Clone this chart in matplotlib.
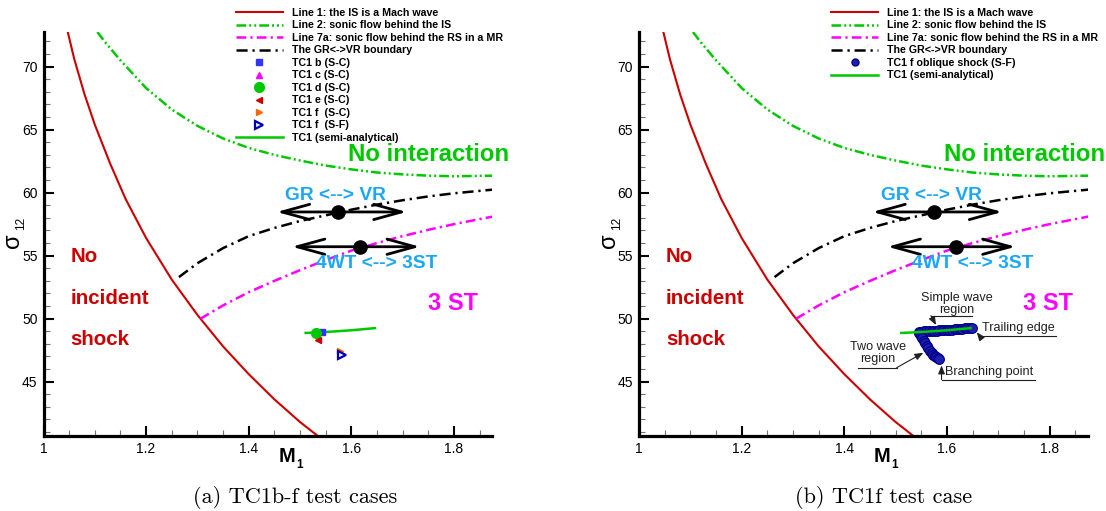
import matplotlib.pyplot as plt
from matplotlib.lines import Line2D
from matplotlib.ticker import MultipleLocator, FixedLocator

plt.rcParams['font.family'] = ['Liberation Sans', 'DejaVu Sans']
plt.rcParams['lines.scale_dashes'] = False

W, H = 1106, 511

# Line 1: the incident shock is a Mach wave
mach_m = [1.047, 1.06, 1.08, 1.10, 1.13, 1.16, 1.20, 1.25, 1.30, 1.35, 1.40, 1.45, 1.50, 1.55]
mach_s = [72.8, 70.6, 67.8, 65.4, 62.3, 59.5, 56.4, 53.1, 50.3, 47.8, 45.6, 43.6, 41.8, 40.2]

# Line 2: sonic flow behind the incident shock
sonic_m = [1.105, 1.12, 1.15, 1.20, 1.25, 1.30, 1.35, 1.40, 1.45, 1.50, 1.55, 1.60, 1.65, 1.70, 1.75, 1.80, 1.878]
sonic_s = [72.75, 71.95, 70.5, 68.3, 66.6, 65.3, 64.3, 63.55, 63.0, 62.55, 62.15, 61.85, 61.6, 61.45, 61.35, 61.3, 61.35]

# Line 7a: sonic flow behind the reflected shock in a Mach reflection
mr_m = [1.306, 1.35, 1.40, 1.45, 1.50, 1.55, 1.60, 1.65, 1.70, 1.75, 1.80, 1.85, 1.878]
mr_s = [50.0, 51.05, 52.1, 53.0, 53.85, 54.65, 55.4, 56.0, 56.55, 57.05, 57.5, 57.9, 58.12]

# GR <-> VR boundary
grvr_m = [1.264, 1.30, 1.35, 1.40, 1.45, 1.50, 1.55, 1.60, 1.65, 1.70, 1.75, 1.80, 1.878]
grvr_s = [53.3, 54.4, 55.6, 56.55, 57.2, 57.75, 58.2, 58.65, 59.05, 59.4, 59.7, 59.95, 60.25]

# TC1 semi-analytical curve
tc1_m = [1.511, 1.53, 1.56, 1.60, 1.646]
tc1_s = [48.87, 48.9, 48.97, 49.08, 49.25]

# TC1 b-f single points (shock-capturing / shock-fitting)
tc1b = (1.542, 48.97)
tc1c = (1.533, 48.95)
tc1d = (1.532, 48.85)
tc1e = (1.536, 48.3)
tc1f_sc = (1.578, 47.46)
tc1f_sf = (1.581, 47.12)

# TC1 f oblique shock (S-F) history
sf_upper_m = [1.545, 1.550, 1.555, 1.560, 1.565, 1.570, 1.575, 1.580, 1.585, 1.590, 1.595,
              1.600, 1.605, 1.610, 1.615, 1.620, 1.625, 1.630, 1.635, 1.640, 1.645, 1.648]
sf_upper_s = [48.97, 48.98, 48.99, 49.0, 49.02, 49.03, 49.04, 49.05, 49.07, 49.08, 49.09,
              49.1, 49.12, 49.13, 49.15, 49.17, 49.19, 49.21, 49.23, 49.25, 49.26, 49.27]
sf_lower_m = [1.546, 1.549, 1.552, 1.555, 1.558, 1.561, 1.564, 1.567, 1.570, 1.573,
              1.576, 1.579, 1.582, 1.584]
sf_lower_s = [48.85, 48.65, 48.45, 48.25, 48.05, 47.85, 47.65, 47.47, 47.3, 47.15,
              47.02, 46.92, 46.85, 46.8]

# transition points marked on the boundaries
grvr_pt = (1.574, 58.47)
wt_pt = (1.617, 55.71)

RED = '#cc0000'
GREEN = '#00c800'
MAGENTA = '#ff00ff'
CYAN = '#1aa8f5'
INK = '#202020'

fig = plt.figure(figsize=(W / 100, H / 100), dpi=100)


def px_box(x0, x1, y0, y1):
    return [x0 / W, 1 - y1 / H, (x1 - x0) / W, (y1 - y0) / H]


def base_panel(ax):
    l1, = ax.plot(mach_m, mach_s, color=RED, lw=1.5)
    l2, = ax.plot(sonic_m, sonic_s, color=GREEN, lw=1.8,
                  ls=(0, (7, 2.2, 1.4, 2.2, 1.4, 2.2)))
    l3, = ax.plot(mr_m, mr_s, color=MAGENTA, lw=1.8, ls=(0, (7, 3, 1.6, 3)))
    l4, = ax.plot(grvr_m, grvr_s, color='k', lw=1.8, ls=(0, (8, 3.5, 1.6, 3.5)))

    for (x0, x1), (mx, my) in [((1.4545, 1.708), grvr_pt), ((1.484, 1.734), wt_pt)]:
        ax.annotate('', xy=(x1, my), xytext=(x0, my),
                    arrowprops=dict(arrowstyle='<->, head_length=2.0, head_width=0.55',
                                    mutation_scale=10, lw=2, color='k',
                                    shrinkA=0, shrinkB=0))
        ax.plot(mx, my, 'o', color='k', ms=9.5, zorder=5)

    ax.text(1.0522, 54.92, 'No', color=RED, fontsize=14.8, weight='bold', va='center')
    ax.text(1.0522, 51.62, 'incident', color=RED, fontsize=14.8, weight='bold', va='center')
    ax.text(1.0522, 48.31, 'shock', color=RED, fontsize=14.8, weight='bold', va='center')
    ax.text(1.7513, 62.99, 'No interaction', color=GREEN, fontsize=17.3,
            weight='bold', ha='center', va='center')
    ax.text(1.5698, 59.75, 'GR <--> VR', color=CYAN, fontsize=13.8,
            weight='bold', ha='center', va='center')
    ax.text(1.6497, 54.4, '4WT <--> 3ST', color=CYAN, fontsize=13.8,
            weight='bold', ha='center', va='center')
    ax.text(1.798, 51.2, '3 ST', color=MAGENTA, fontsize=17,
            weight='bold', ha='center', va='center')

    ax.set_xlim(1, 1.875)
    ax.set_ylim(40.69, 72.75)
    ax.xaxis.set_major_locator(FixedLocator([1, 1.2, 1.4, 1.6, 1.8]))
    ax.set_xticklabels(['1', '1.2', '1.4', '1.6', '1.8'])
    ax.xaxis.set_minor_locator(MultipleLocator(0.05))
    ax.yaxis.set_major_locator(MultipleLocator(5))
    ax.yaxis.set_minor_locator(MultipleLocator(1))
    ax.tick_params(which='major', direction='in', length=7.2, width=1.5,
                   labelsize=10, top=False, right=False)
    ax.tick_params(axis='y', which='major', pad=4.3)
    ax.tick_params(axis='x', which='major', pad=4)
    ax.tick_params(which='minor', direction='in', length=4.3, width=0.8,
                   color='0.45', top=False, right=False)
    for side in ('top', 'right'):
        ax.spines[side].set_visible(False)
    for side in ('left', 'bottom'):
        ax.spines[side].set_linewidth(2.3)
    return [l1, l2, l3, l4]


def note_arrow(ax, start, tip):
    ax.annotate('', xy=tip, xytext=start,
                arrowprops=dict(arrowstyle='-|>, head_length=0.5, head_width=0.2',
                                color=INK, lw=0.8, shrinkA=0, shrinkB=0))


line_labels = ['Line 1: the IS is a Mach wave',
               'Line 2: sonic flow behind the IS',
               'Line 7a: sonic flow behind the RS in a MR',
               'The GR<->VR boundary']
leg_prop = dict(family='Liberation Sans', weight='bold', size=7.65)
leg_kw = dict(loc='upper left', frameon=False, prop=leg_prop, handlelength=4.48,
              handletextpad=0.82, labelspacing=0.235, borderpad=0,
              borderaxespad=0, numpoints=1, bbox_transform=fig.transFigure)

# (a) TC1b-f test cases
ax1 = fig.add_axes(px_box(43.5, 492.4, 32, 436))
lines = base_panel(ax1)
semi1, = ax1.plot(tc1_m, tc1_s, color=GREEN, lw=1.8)
mb, = ax1.plot(*tc1b, 's', color='#3333ff', ms=4.5, ls='none')
mc, = ax1.plot(*tc1c, '^', color=MAGENTA, ms=5, ls='none')
md, = ax1.plot(*tc1d, 'o', color=GREEN, ms=7, ls='none')
me, = ax1.plot(*tc1e, '<', color=RED, ms=5, ls='none')
mf, = ax1.plot(*tc1f_sc, '>', color='#ff6600', ms=5, ls='none')
mg, = ax1.plot(*tc1f_sf, '>', mfc='#e8f6ff', mec='#0000b0', mew=1.6, ms=6, ls='none')
fig.legend(lines + [mb, mc, md, me, mf, mg, semi1],
           line_labels + ['TC1 b (S-C)', 'TC1 c (S-C)', 'TC1 d (S-C)', 'TC1 e (S-C)',
                          'TC1 f  (S-C)', 'TC1 f  (S-F)', 'TC1 (semi-analytical)'],
           bbox_to_anchor=(235.5 / W, 1 - 8 / H), **leg_kw)

# (b) TC1f test case
ax2 = fig.add_axes(px_box(639.1, 1088, 32, 436))
lines = base_panel(ax2)
dot = dict(marker='o', ms=7, mfc='#2020b0', mec='#000088', mew=0.8, ls='none')
ax2.plot(sf_upper_m, sf_upper_s, **dot)
ax2.plot(sf_lower_m, sf_lower_s, **dot)
semi2, = ax2.plot(tc1_m, tc1_s, color=GREEN, lw=1.8)
sf_leg = Line2D([], [], ls='none', marker='o', ms=5, mfc='#2020b0', mec='#000088')
fig.legend(lines + [sf_leg, semi2],
           line_labels + ['TC1 f oblique shock (S-F)', 'TC1 (semi-analytical)'],
           bbox_to_anchor=(830.7 / W, 1 - 8 / H), **leg_kw)

note = dict(fontsize=9.1, color=INK)
ax2.text(1.6197, 51.18, 'Simple wave\nregion', ha='center', va='center',
         linespacing=1.0, **note)
ax2.plot([1.5688, 1.6489], [50.24, 50.24], color=INK, lw=0.8)
note_arrow(ax2, (1.5688, 50.24), (1.5788, 49.5))
ax2.text(1.668, 49.24, 'Trailing edge', ha='left', va='center', **note)
ax2.plot([1.6645, 1.8127], [48.59, 48.59], color=INK, lw=0.8)
note_arrow(ax2, (1.6645, 48.59), (1.6581, 48.92))
ax2.text(1.4656, 47.25, 'Two wave\nregion', ha='center', va='center',
         linespacing=1.0, **note)
ax2.plot([1.4267, 1.5021], [46.11, 46.11], color=INK, lw=0.8)
note_arrow(ax2, (1.5021, 46.11), (1.554, 47.3))
ax2.text(1.5963, 45.73, 'Branching point', ha='left', va='center', **note)
ax2.plot([1.5895, 1.7717], [45.17, 45.17], color=INK, lw=0.8)
note_arrow(ax2, (1.5895, 45.17), (1.5895, 46.29))

# axis titles and captions, placed in figure pixels
for x0, mx, cx, cap in [(0, 286.5, 295.3, '(a) TC1b-f test cases'),
                        (595.6, 881.6, 883.3, '(b) TC1f test case')]:
    fig.text((13.3 + x0) / W, 1 - 241 / H, 'σ', fontsize=17, rotation=90,
             ha='center', va='center')
    fig.text((21.5 + x0) / W, 1 - 223 / H, '12', fontsize=8.5, rotation=90,
             ha='center', va='center')
    fig.text(mx / W, 1 - 456.7 / H, 'M', fontsize=14.5, weight='bold',
             ha='center', va='center')
    fig.text((mx + 13) / W, 1 - 465 / H, '1', fontsize=8.5, weight='bold',
             ha='center', va='center')
    fig.text(cx / W, 1 - 497.5 / H, cap, fontsize=16, family='cmr10',
             ha='center', va='center')

fig.savefig('out.png', dpi=100)
